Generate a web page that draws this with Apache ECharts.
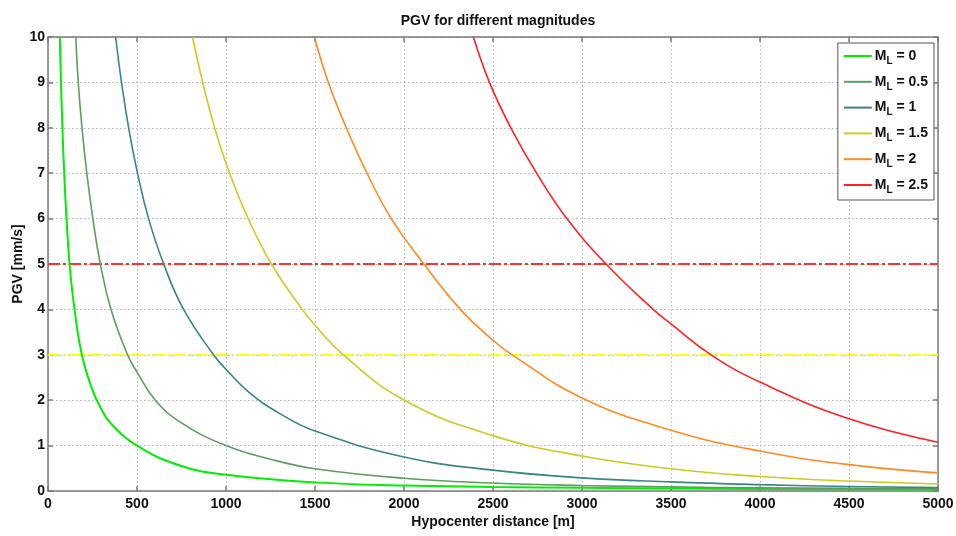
<!DOCTYPE html>
<html>
<head>
<meta charset="utf-8">
<script src="https://cdn.jsdelivr.net/npm/echarts@6/dist/echarts.min.js"></script>
<style>
html,body{margin:0;padding:0;background:#fff;}
#chart{width:956px;height:536px;}
</style>
</head>
<body>
<div id="chart"></div>
<script>
// ---- data (distance [m], PGV [mm/s]) ----
const magnitudes = ['0', '0.5', '1', '1.5', '2', '2.5'];
const curveM0 = [[66,10],[73,9],[81,8],[91,7],[104,6],[121,5],[149,4],[190,3],[250,2.22],[300,1.8],[350,1.5],[500,1],[750,0.55],[1000,0.36],[1500,0.19],[2000,0.12],[2500,0.09],[3000,0.07],[3500,0.055],[4000,0.045],[4500,0.038],[5000,0.032]];
const curveM05 = [[156,10],[170,9],[191,8],[218,7],[252,6],[294,5],[354,4],[447,3],[500,2.62],[603,2],[750,1.5],[1000,1],[1250,0.7],[1500,0.49],[2000,0.28],[2500,0.175],[3000,0.12],[3500,0.09],[4000,0.07],[4500,0.057],[5000,0.047]];
const curveM1 = [[380,10],[413,9],[453,8],[503,7],[565,6],[650,5],[762,4],[930,3],[1000,2.68],[1136,2.15],[1305,1.7],[1500,1.32],[2000,0.75],[2500,0.46],[3000,0.29],[3500,0.2],[4000,0.14],[4500,0.1],[5000,0.075]];
const curveM15 = [[812,10],[869,9],[936,8],[1020,7],[1125,6],[1255,5],[1428,4],[1500,3.65],[1659,3],[2002,2],[2500,1.22],[3000,0.77],[3500,0.49],[4000,0.32],[4500,0.22],[5000,0.155]];
const curveM2 = [[1500,9.95],[1575,9],[1676,8],[1792,7],[1928,6],[2112,5],[2316,4],[2500,3.32],[2607,3],[3000,2.05],[3500,1.34],[4000,0.88],[4500,0.58],[5000,0.4]];
const curveM25 = [[2390,10],[2480,9],[2600,8],[2745,7],[2915,6],[3135,5],[3400,4],[3500,3.68],[3725,3],[4000,2.4],[4500,1.59],[5000,1.075]];
const curves = [curveM0, curveM05, curveM1, curveM15, curveM2, curveM25];
const thresholdRed = [[0,5],[5000,5]];
const thresholdYellow = [[0,3],[5000,3]];
const xTicks = {min: 0, max: 5000, interval: 500};
const yTicks = {min: 0, max: 10, interval: 1};

// ---- styling ----
const colors = ['#00ee00', '#5c9e5c', '#3a8585', '#cccc1e', '#ff8a22', '#ff2222'];
const widths = [2, 1.6, 1.6, 1.6, 1.6, 1.6];
const names = magnitudes.map(m => 'M_L = ' + m);
const FONT = 'Liberation Sans, Arial, sans-serif';

const series = curves.map((c, i) => ({
  name: names[i],
  type: 'line',
  data: c,
  symbol: 'none',
  smooth: 0.45,
  lineStyle: {color: colors[i], width: widths[i]},
  itemStyle: {color: colors[i]},
  z: 3
}));
series.push({
  name: 'thrRed', type: 'line', data: thresholdRed, symbol: 'none', silent: true,
  lineStyle: {color: '#ff3030', width: 1.8, type: [12, 3, 3, 3]}, z: 2
});
series.push({
  name: 'thrYellow', type: 'line', data: thresholdYellow, symbol: 'none', silent: true,
  lineStyle: {color: '#ffff00', width: 1.8, type: [12, 3, 3, 3]}, z: 2
});

const axisColor = '#7a7a7a';
const labelStyle = {color: '#111', fontWeight: 'bold', fontSize: 14, fontFamily: FONT, formatter: v => String(v)};
const nameStyle = {fontSize: 14, fontWeight: 'bold', color: '#111', fontFamily: FONT};

const chart = echarts.init(document.getElementById('chart'), null, {renderer: 'canvas'});
chart.setOption({
  animation: false,
  backgroundColor: '#fff',
  title: {
    text: 'PGV for different magnitudes',
    left: 493, top: 9, textAlign: 'center',
    textStyle: {fontSize: 14, fontWeight: 'bold', color: '#111', fontFamily: FONT}
  },
  grid: {left: 48, right: 18, top: 37, bottom: 45, containLabel: false, outerBoundsMode: 'none'},
  legend: {
    data: names,
    orient: 'vertical',
    right: 22, top: 43,
    backgroundColor: '#fff',
    borderColor: '#555', borderWidth: 1, borderRadius: 0,
    padding: [3, 6, 5, 6],
    icon: 'rect',
    itemWidth: 28, itemHeight: 2, itemGap: 5.8,
    formatter: function (n) {
      const m = n.replace('M_L = ', '');
      return '{m|M}{s|L}{m| = ' + m + '}';
    },
    textStyle: {
      padding: [0, 0, 0, -2],
      rich: {
        m: {fontSize: 14, fontWeight: 'bold', color: '#111', lineHeight: 14, fontFamily: FONT},
        s: {fontSize: 10, fontWeight: 'bold', color: '#111', lineHeight: 10, padding: [10, 0, 0, 0], fontFamily: FONT}
      }
    }
  },
  xAxis: [{
    type: 'value', min: xTicks.min, max: xTicks.max, interval: xTicks.interval,
    name: 'Hypocenter distance [m]', nameLocation: 'middle', nameGap: 24, nameMoveOverlap: false,
    nameTextStyle: nameStyle,
    axisLine: {show: true, onZero: false, lineStyle: {color: axisColor, width: 1.5}},
    axisTick: {show: true, inside: true, length: 5, lineStyle: {color: axisColor, width: 1.5}},
    axisLabel: Object.assign({margin: 6}, labelStyle),
    splitLine: {show: true, lineStyle: {color: '#b5b5b5', width: 1, type: [1.5, 2.5]}}
  }, {
    type: 'value', position: 'top', min: xTicks.min, max: xTicks.max, interval: xTicks.interval,
    axisLine: {show: true, onZero: false, lineStyle: {color: axisColor, width: 1.5}},
    axisTick: {show: true, inside: true, length: 5, lineStyle: {color: axisColor, width: 1.5}},
    axisLabel: {show: false}, splitLine: {show: false}
  }],
  yAxis: [{
    type: 'value', min: yTicks.min, max: yTicks.max, interval: yTicks.interval,
    name: 'PGV [mm/s]', nameLocation: 'middle', nameGap: 23, nameMoveOverlap: false,
    nameTextStyle: nameStyle,
    axisLine: {show: true, onZero: false, lineStyle: {color: axisColor, width: 1.5}},
    axisTick: {show: true, inside: true, length: 5, lineStyle: {color: axisColor, width: 1.5}},
    axisLabel: Object.assign({margin: 3}, labelStyle),
    splitLine: {show: true, lineStyle: {color: '#b5b5b5', width: 1, type: [1.5, 2.5]}}
  }, {
    type: 'value', position: 'right', min: yTicks.min, max: yTicks.max, interval: yTicks.interval,
    axisLine: {show: true, onZero: false, lineStyle: {color: axisColor, width: 1.5}},
    axisTick: {show: true, inside: true, length: 5, lineStyle: {color: axisColor, width: 1.5}},
    axisLabel: {show: false}, splitLine: {show: false}
  }],
  series: series
});
</script>
</body>
</html>
